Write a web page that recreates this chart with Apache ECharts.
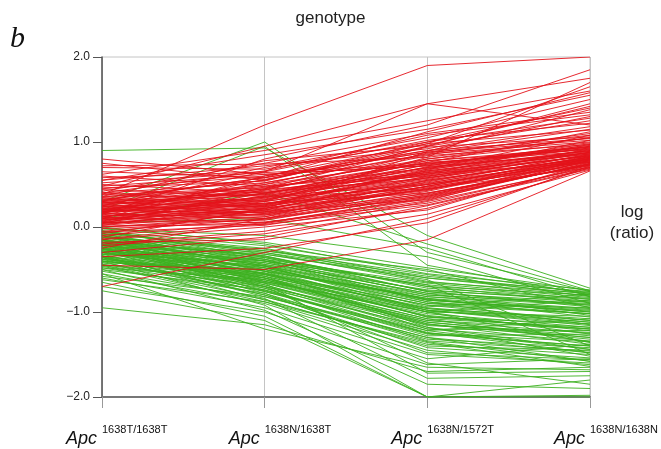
<!DOCTYPE html>
<html>
<head>
<meta charset="utf-8">
<script src="https://cdn.jsdelivr.net/npm/echarts@6/dist/echarts.min.js"></script>
<style>
  html, body { margin: 0; padding: 0; background: #fff; }
  #chart { width: 661px; height: 449px; }
</style>
</head>
<body>
<div id="chart"></div>
<script>
// genotypes on the x axis
const genotypes = ['1638T/1638T', '1638N/1638T', '1638N/1572T', '1638N/1638N']
const yTicks = [-2, -1, 0, 1, 2]

// log ratio profiles, one row per gene (up-regulated)
const redProfiles = [
  [0.12, 0.25, 0.55, 0.82], [0.05, 0.18, 0.48, 0.78], [0.30, 0.42, 0.70, 0.95],
  [-0.10, 0.05, 0.35, 0.74], [0.22, 0.35, 0.62, 0.88], [0.40, 0.52, 0.85, 1.10],
  [0.18, 0.30, 0.58, 0.80], [0.02, 0.15, 0.45, 0.76], [-0.05, 0.10, 0.40, 0.72],
  [0.25, 0.45, 0.75, 0.92], [0.35, 0.38, 0.66, 0.86], [0.10, 0.28, 0.52, 0.79],
  [0.08, 0.20, 0.60, 0.84], [0.45, 0.60, 0.90, 1.18], [0.60, 0.48, 0.80, 1.05],
  [0.75, 0.55, 0.95, 1.25], [0.80, 0.62, 0.72, 0.98], [0.70, 0.68, 1.00, 1.40],
  [0.55, 0.72, 0.92, 1.30], [0.50, 0.40, 0.68, 0.90], [0.15, 0.22, 0.50, 0.77],
  [0.28, 0.33, 0.64, 0.83], [-0.20, -0.05, 0.30, 0.70], [-0.30, -0.12, 0.25, 0.68],
  [-0.15, 0.00, 0.20, 0.75], [0.00, 0.12, 0.42, 0.81], [0.20, 0.50, 0.78, 0.94],
  [0.32, 0.58, 0.88, 1.02], [0.12, 0.36, 0.70, 0.87], [0.05, 0.08, 0.38, 0.73],
  [-0.70, -0.30, 0.10, 0.70], [-0.45, -0.50, -0.15, 0.66], [-0.35, -0.25, 0.05, 0.72],
  [0.38, 1.20, 1.90, 2.00], [0.25, 0.65, 1.45, 1.75], [0.48, 0.95, 1.45, 1.20],
  [0.15, 0.80, 1.20, 1.85], [0.62, 0.90, 1.25, 1.60], [0.30, 0.70, 1.05, 1.50],
  [0.42, 0.75, 1.10, 1.35], [0.10, 0.60, 0.98, 1.65], [0.20, 0.45, 0.95, 1.45],
  [0.55, 0.85, 1.15, 1.55], [0.05, 0.30, 0.82, 1.70], [0.35, 0.55, 1.00, 1.28],
  [0.18, 0.40, 0.76, 1.12], [0.22, 0.26, 0.68, 1.08], [0.28, 0.48, 0.62, 1.02],
  [0.40, 0.30, 0.56, 0.88], [0.08, 0.32, 0.74, 0.96], [-0.08, 0.20, 0.58, 0.85],
  [0.14, 0.14, 0.46, 0.79], [0.26, 0.38, 0.80, 0.99], [0.33, 0.24, 0.54, 0.82],
  [0.02, 0.26, 0.66, 0.90], [0.18, 0.52, 0.86, 1.00], [0.48, 0.62, 0.72, 0.93],
  [0.65, 0.58, 0.88, 1.15], [0.72, 0.74, 0.82, 1.05], [0.58, 0.65, 1.02, 1.22],
  [0.10, 0.18, 0.32, 0.76], [-0.02, 0.06, 0.28, 0.71], [0.16, 0.10, 0.36, 0.74],
  [0.24, 0.20, 0.44, 0.78], [0.36, 0.44, 0.60, 0.84], [0.44, 0.36, 0.50, 0.80],
  [0.06, 0.40, 0.64, 0.86], [0.12, 0.34, 0.78, 0.91], [0.20, 0.28, 0.40, 0.73],
  [0.30, 0.50, 0.94, 1.06], [0.04, 0.44, 0.84, 0.97], [-0.12, 0.22, 0.50, 0.80],
  [0.26, 0.16, 0.48, 0.83], [0.38, 0.46, 0.76, 0.89], [0.16, 0.56, 0.90, 1.04],
  [0.09, 0.12, 0.55, 0.81], [0.21, 0.31, 0.71, 0.87], [0.27, 0.41, 0.57, 0.92],
  [0.34, 0.27, 0.63, 0.76], [0.01, 0.03, 0.26, 0.69], [-0.25, 0.10, 0.48, 0.84],
  [0.46, 0.54, 0.98, 1.14], [0.52, 0.64, 0.74, 0.95], [0.14, 0.47, 0.69, 0.93],
  [0.07, 0.37, 0.61, 0.88], [0.19, 0.17, 0.53, 0.85], [0.29, 0.23, 0.67, 0.97],
  [0.11, 0.05, 0.34, 0.75], [0.23, 0.43, 0.87, 1.08], [-0.18, -0.15, 0.15, 0.67],
  [0.40, 0.66, 1.08, 1.32], [0.03, 0.21, 0.89, 1.38], [0.36, 0.78, 0.96, 1.42],
  [0.31, 0.58, 1.12, 1.58], [0.17, 0.35, 0.45, 0.70], [0.04, 0.16, 0.39, 0.77],
  [-0.06, 0.02, 0.31, 0.79], [0.13, 0.19, 0.43, 0.83], [0.21, 0.14, 0.37, 0.81],
  [-0.14, 0.04, 0.33, 0.78], [0.06, 0.24, 0.51, 0.86], [0.17, 0.27, 0.47, 0.74],
  [0.24, 0.32, 0.59, 0.91], [0.29, 0.39, 0.73, 0.94], [0.00, 0.09, 0.36, 0.80],
  [0.10, 0.22, 0.44, 0.82], [-0.22, -0.08, 0.22, 0.73], [0.19, 0.25, 0.65, 0.89]
]

// down-regulated genes
const greenProfiles = [
  [-0.20, -0.45, -0.85, -1.00], [-0.30, -0.55, -0.95, -1.10], [-0.10, -0.40, -0.75, -0.85],
  [-0.25, -0.60, -1.05, -1.20], [-0.35, -0.70, -1.15, -1.30], [-0.15, -0.35, -0.70, -0.80],
  [-0.05, -0.30, -0.65, -0.78], [-0.40, -0.65, -1.10, -1.25], [-0.22, -0.50, -0.90, -0.95],
  [-0.28, -0.58, -1.00, -1.05], [-0.12, -0.38, -0.80, -0.90], [-0.32, -0.48, -0.88, -1.15],
  [-0.18, -0.42, -0.78, -0.88], [-0.45, -0.75, -1.25, -1.40], [-0.38, -0.80, -1.30, -1.48],
  [-0.08, -0.25, -0.60, -0.76], [0.00, -0.20, -0.55, -0.74], [-0.26, -0.52, -0.98, -1.12],
  [-0.34, -0.62, -1.08, -1.35], [-0.16, -0.44, -0.82, -0.92], [-0.24, -0.68, -1.20, -1.22],
  [-0.42, -0.72, -1.18, -1.52], [-0.20, -0.55, -0.92, -1.02], [-0.30, -0.46, -0.86, -0.98],
  [-0.10, -0.34, -0.72, -0.84], [-0.36, -0.64, -1.02, -1.18], [-0.14, -0.56, -0.96, -1.08],
  [-0.48, -0.78, -1.35, -1.58], [-0.52, -0.85, -1.40, -1.45], [-0.55, -0.90, -1.50, -1.60],
  [-0.60, -0.95, -1.55, -1.38], [-0.70, -1.00, -1.62, -1.55], [-0.95, -1.15, -1.70, -1.65],
  [-0.75, -1.10, -2.00, -1.80], [-0.65, -1.05, -2.00, -2.00], [-0.50, -0.98, -1.85, -1.90],
  [-0.40, -0.92, -2.00, -1.98], [0.90, 0.93, -0.10, -0.72], [0.30, 1.00, -0.30, -0.76],
  [0.20, 0.95, -0.45, -0.80], [0.10, 0.40, -0.20, -0.75], [0.05, 0.10, -0.25, -0.82],
  [-0.02, -0.10, -0.35, -0.90], [-0.06, -0.28, -0.50, -0.95], [-0.20, -0.32, -0.62, -1.40],
  [-0.28, -0.40, -0.68, -1.50], [-0.22, -0.62, -1.12, -1.28], [-0.26, -0.70, -1.25, -1.35],
  [-0.32, -0.74, -1.28, -1.26], [-0.18, -0.50, -1.00, -0.86], [-0.12, -0.46, -0.94, -0.79],
  [-0.38, -0.58, -0.98, -1.16], [-0.44, -0.66, -1.14, -1.32], [-0.04, -0.36, -0.76, -0.94],
  [-0.16, -0.52, -0.84, -1.06], [-0.24, -0.54, -1.06, -1.14], [-0.30, -0.60, -1.16, -1.24],
  [-0.34, -0.82, -1.32, -1.42], [-0.20, -0.76, -1.22, -1.08], [-0.10, -0.48, -0.90, -1.02],
  [-0.46, -0.88, -1.45, -1.62], [-0.36, -0.86, -1.38, -1.50], [-0.28, -0.78, -1.48, -1.56],
  [-0.14, -0.66, -1.10, -1.20], [-0.08, -0.44, -0.74, -0.87], [-0.42, -0.50, -0.84, -0.97],
  [-0.26, -0.38, -0.66, -0.83], [-0.18, -0.30, -0.58, -0.77], [-0.32, -0.42, -0.78, -1.04],
  [-0.22, -0.36, -0.70, -0.89], [-0.12, -0.26, -0.64, -0.81], [-0.38, -0.54, -0.92, -1.10],
  [-0.48, -0.62, -1.04, -1.22], [-0.05, -0.22, -0.52, -0.78], [-0.15, -0.58, -1.20, -1.34],
  [-0.25, -0.72, -1.34, -1.46], [-0.35, -0.80, -1.42, -1.54], [-0.30, -0.66, -1.72, -1.70],
  [-0.45, -0.84, -1.78, -1.75], [-0.20, -0.70, -1.60, -1.85], [-0.55, -1.20, -1.65, -1.68],
  [-0.40, -0.60, -1.00, -1.36], [-0.10, -0.52, -1.18, -1.44], [-0.28, -0.46, -0.80, -0.91],
  [-0.16, -0.40, -0.68, -0.85], [-0.06, -0.32, -0.60, -0.79], [-0.34, -0.56, -0.96, -1.12],
  [-0.24, -0.48, -0.86, -0.99], [-0.44, -0.70, -1.12, -1.30], [-0.02, -0.18, -0.48, -0.75],
  [-0.50, -0.74, -1.24, -1.48], [-0.58, -0.82, -1.30, -1.58], [-0.62, -0.88, -1.36, -1.64],
  [-0.12, -0.28, -0.56, -0.82], [-0.18, -0.64, -1.08, -1.18], [-0.36, -0.76, -1.26, -1.40],
  [-0.22, -0.40, -0.88, -1.02], [-0.30, -0.52, -0.82, -0.96], [-0.14, -0.46, -0.98, -1.14],
  [-0.26, -0.64, -1.00, -1.26], [-0.40, -0.56, -1.06, -1.20], [-0.08, -0.38, -0.86, -1.00],
  [-0.20, -0.60, -1.14, -1.38], [-0.34, -0.68, -1.22, -1.44], [-0.16, -0.34, -0.76, -0.92]
]

const chart = echarts.init(document.getElementById('chart'), null, { renderer: 'canvas' })

const profileSeries = (rows, color) => rows.map(row => ({
  type: 'line',
  data: row,
  symbol: 'none',
  silent: true,
  lineStyle: { color: color, width: 1, opacity: 0.9 }
}))

const labelFont = { fontFamily: 'Liberation Sans', color: '#111' }

const option = {
  backgroundColor: '#fff',
  animation: false,
  title: {
    text: 'genotype',
    left: 'center',
    top: 5,
    textStyle: { fontFamily: 'Liberation Sans', fontSize: 17, fontWeight: 'normal', color: '#222' }
  },
  graphic: [
    {
      type: 'text', x: 10, y: 24,
      style: { text: 'b', fontFamily: 'Liberation Serif', fontStyle: 'italic', fontSize: 30, fill: '#111' }
    },
    {
      type: 'text', x: 632, y: 202,
      style: { text: 'log\n(ratio)', fontFamily: 'Liberation Sans', fontSize: 17, fill: '#222', align: 'center', lineHeight: 21 }
    }
  ],
  grid: {
    left: 102, right: 71, top: 57, bottom: 52,
    containLabel: false,
    outerBoundsMode: 'none',
    show: true, borderColor: '#c4c4c4', borderWidth: 1
  },
  xAxis: [
    {
      type: 'category',
      data: genotypes,
      boundaryGap: false,
      axisLine: { onZero: false, lineStyle: { color: '#777', width: 2 } },
      axisTick: { show: true, length: 11, lineStyle: { color: '#999' } },
      splitLine: { show: true, lineStyle: { color: '#c4c4c4', width: 1 } },
      axisLabel: {
        interval: 0,
        margin: 33,
        align: 'right',
        formatter: () => 'Apc',
        ...labelFont,
        fontStyle: 'italic',
        fontSize: 18,
        padding: [0, 5, 0, 0]
      }
    },
    {
      type: 'category',
      data: genotypes,
      boundaryGap: false,
      position: 'bottom',
      axisLine: { show: false, onZero: false },
      axisTick: { show: false },
      splitLine: { show: false },
      axisLabel: {
        interval: 0,
        margin: 27,
        align: 'left',
        ...labelFont,
        fontSize: 11
      }
    }
  ],
  yAxis: {
    type: 'value',
    min: yTicks[0],
    max: yTicks[yTicks.length - 1],
    interval: 1,
    axisLine: { show: true, lineStyle: { color: '#555', width: 1.5 } },
    axisTick: { show: true, length: 9, lineStyle: { color: '#555' } },
    splitLine: { show: false },
    axisLabel: {
      margin: 12,
      fontFamily: 'Liberation Sans',
      fontSize: 12,
      color: '#222',
      formatter: v => (v < 0 ? '\u2212' + Math.abs(v).toFixed(1) : v.toFixed(1))
    }
  },
  series: [
    ...profileSeries(greenProfiles, '#3cb01f'),
    ...profileSeries(redProfiles, '#e3121a')
  ]
}

chart.setOption(option)
</script>
</body>
</html>
